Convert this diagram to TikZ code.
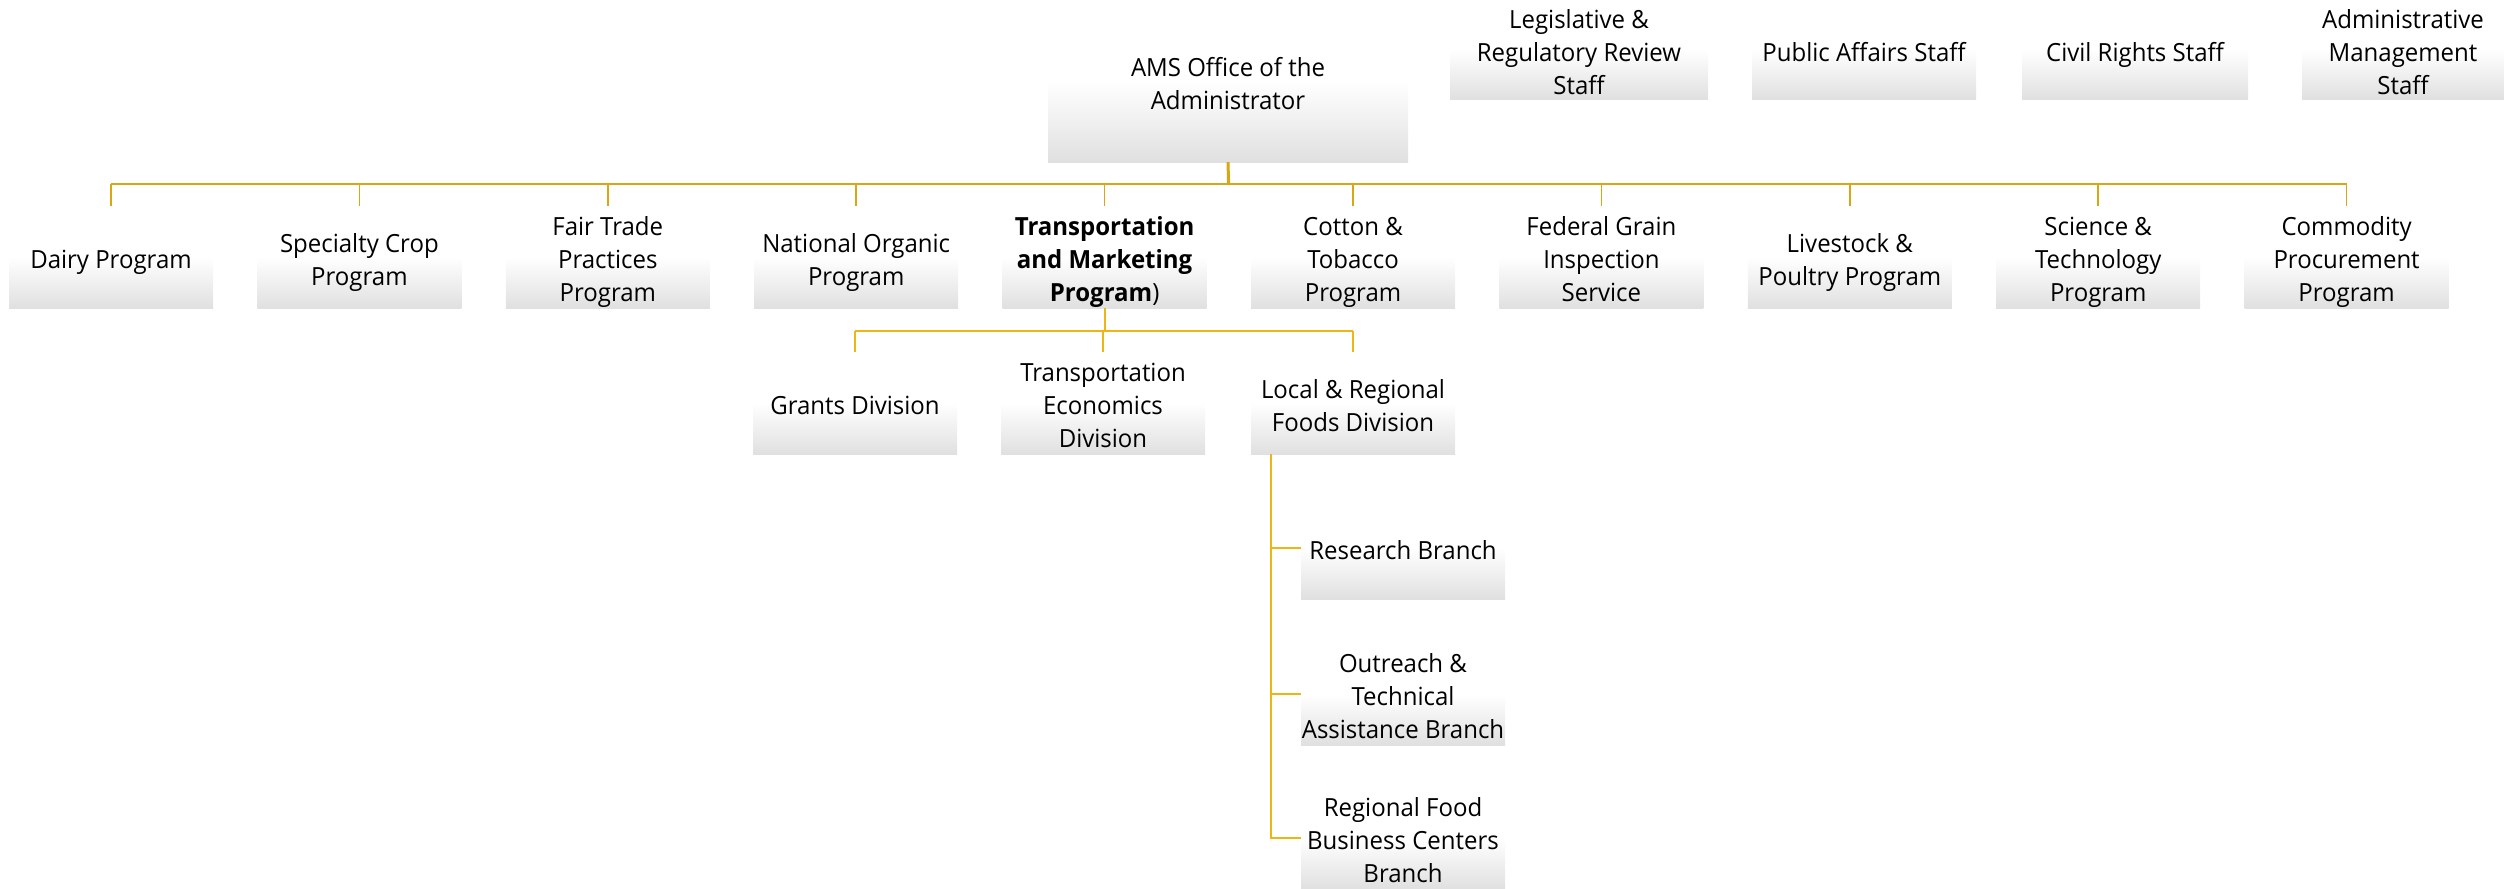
\documentclass[tikz,border=0pt]{standalone}
\usepackage{fontspec}
\setmainfont{Open Sans}[FakeStretch=0.96]
\definecolor{boxgray}{RGB}{224,224,224}
\definecolor{gold}{RGB}{218,166,20}
\definecolor{goldlight}{RGB}{238,182,20}
\newcommand\boxtxt[1]{\raisebox{-5pt}[\height][\depth]{\begin{tabular}{@{}c@{}}#1\end{tabular}}}
\tikzset{
  org/.style={rectangle, inner sep=0pt,
    top color=white, bottom color=boxgray, middle color=white,
    font=\fontsize{25}{33}\selectfont, text=black},
  prog/.style={org, minimum width=204pt, minimum height=102pt},
  busline/.style={draw=gold, line width=2.5pt},
  tickline/.style={draw=gold, line width=1.5pt},
  subline/.style={draw=goldlight, line width=2pt},
}
\begin{document}
\begin{tikzpicture}[x=1pt,y=-1pt]
\useasboundingbox (0,0) rectangle (2504,889);
% top
\node[org, minimum width=360pt, minimum height=162pt] (ams) at (1228,81) {\boxtxt{AMS Office of the\\Administrator}};
\node[org, minimum width=258pt, minimum height=99pt] (leg) at (1579,49.5) {\boxtxt{Legislative \&\\Regulatory Review\\Staff}};
\node[org, minimum width=224pt, minimum height=99pt] (pub) at (1864,49.5) {\boxtxt{Public Affairs Staff}};
\node[org, minimum width=226pt, minimum height=99pt] (civ) at (2135,49.5) {\boxtxt{Civil Rights Staff}};
\node[org, minimum width=202pt, minimum height=99pt] (adm) at (2403,49.5) {\boxtxt{Administrative\\Management\\Staff}};
% programs
\node[prog] (dairy) at (111,257) {\boxtxt{Dairy Program}};
\node[prog] (spec) at (359.4,257) {\boxtxt{Specialty Crop\\Program}};
\node[prog] (fair) at (607.8,257) {\boxtxt{Fair Trade\\Practices\\Program}};
\node[prog] (nop) at (856.2,257) {\boxtxt{National Organic\\Program}};
\node[prog] (tmp) at (1104.6,257) {\boxtxt{\textbf{Transportation}\\\textbf{and Marketing}\\\textbf{Program})}};
\node[prog] (cot) at (1353,257) {\boxtxt{Cotton \&\\Tobacco\\Program}};
\node[prog] (fgis) at (1601.4,257) {\boxtxt{Federal Grain\\Inspection\\Service}};
\node[prog] (live) at (1849.8,257) {\boxtxt{Livestock \&\\Poultry Program}};
\node[prog] (sci) at (2098.2,257) {\boxtxt{Science \&\\Technology\\Program}};
\node[prog] (comm) at (2346.6,257) {\boxtxt{Commodity\\Procurement\\Program}};
% divisions
\node[prog] (grant) at (855,403) {\boxtxt{Grants Division}};
\node[prog] (ted) at (1103,403) {\boxtxt{Transportation\\Economics\\Division}};
\node[prog] (lrfd) at (1353,403) {\boxtxt{Local \& Regional\\Foods Division}};
% branches
\node[prog] (res) at (1403,548) {\boxtxt{Research Branch}};
\node[prog] (out) at (1403,694) {\boxtxt{Outreach \&\\Technical\\Assistance Branch}};
\node[prog] (reg) at (1403,838) {\boxtxt{Regional Food\\Business Centers\\Branch}};
% connectors
\coordinate (bus) at (1228.6,184);
\draw[draw=gold, line width=3pt] (ams.south) -- (bus);
\draw[busline] (dairy.north |- bus) -- (comm.north |- bus);
\foreach \n in {dairy,spec,fair,nop,tmp,cot,fgis,live,sci,comm}
  \draw[tickline] (\n.north |- bus) -- (\n.north);
\coordinate (bus2) at (1104.6,331);
\draw[subline] (tmp.south) -- (bus2);
\draw[subline] (grant.north |- bus2) -- (lrfd.north |- bus2);
\foreach \n in {grant,ted,lrfd}
  \draw[tickline, draw=goldlight] (\n.north |- bus2) -- (\n.north);
\coordinate (lv) at (1271,454);
\draw[subline] (lv) |- (reg.west);
\draw[tickline, draw=goldlight] (lv |- res.west) -- (res.west);
\draw[tickline, draw=goldlight] (lv |- out.west) -- (out.west);
\end{tikzpicture}
\end{document}
